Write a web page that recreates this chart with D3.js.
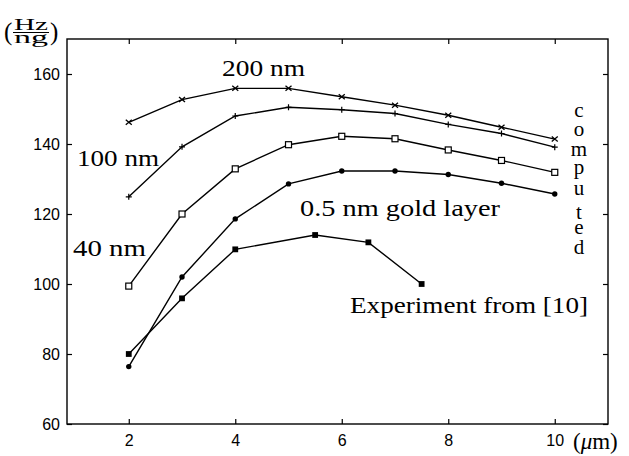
<!DOCTYPE html>
<html>
<head>
<meta charset="utf-8">
<script src="https://cdn.jsdelivr.net/npm/d3@7/dist/d3.min.js"></script>
<style>
body { margin: 0; background: #fff; }
svg { display: block; }
.serif { font-family: "Liberation Serif", "DejaVu Serif", serif; }
.sans { font-family: "Liberation Sans", Arial, sans-serif; }
</style>
</head>
<body>
<script>
// values
var xComputed = [2, 3, 4, 5, 6, 7, 8, 9, 10];
var nm200 = [146.2, 152.7, 155.9, 155.9, 153.5, 151.1, 148.2, 144.8, 141.4];
var nm100 = [124.9, 139.2, 148.0, 150.5, 149.8, 148.7, 145.6, 143.0, 139.1];
var nm40 = [99.4, 120.0, 132.9, 139.8, 142.2, 141.5, 138.3, 135.3, 131.9];
var gold05 = [76.4, 102.0, 118.6, 128.6, 132.3, 132.3, 131.3, 128.8, 125.7];
var xExperiment = [2, 3, 4, 5.5, 6.5, 7.5];
var experiment = [80.0, 95.9, 109.9, 114.0, 111.9, 100.0];
var xTicks = [2, 4, 6, 8, 10];
var yTicks = [60, 80, 100, 120, 140, 160];

var margin = {top: 39, left: 67, right: 21, bottom: 32},
    width = 629 - margin.left - margin.right,
    height = 456 - margin.top - margin.bottom;

var x = d3.scaleLinear().domain([0.84, 11]).range([0, width]);
var y = d3.scaleLinear().domain([60, 170]).range([height, 0]);

var svg = d3.select("body").append("svg")
    .attr("width", 629)
    .attr("height", 456);

var g = svg.append("g")
    .attr("transform", "translate(" + margin.left + "," + margin.top + ")");

// axes, ticks point inward
g.append("g")
    .attr("transform", "translate(0," + height + ")")
    .call(d3.axisBottom(x).tickValues(xTicks).tickSize(-5).tickPadding(11));
g.append("g")
    .call(d3.axisLeft(y).tickValues(yTicks).tickSize(-5).tickPadding(7));
g.append("g")
    .call(d3.axisTop(x).tickValues(xTicks).tickSize(-5).tickFormat(""));
g.append("g")
    .attr("transform", "translate(" + width + ",0)")
    .call(d3.axisRight(y).tickValues(yTicks).tickSize(-5).tickFormat(""));

g.selectAll(".domain").remove();
g.selectAll(".tick line").attr("stroke", "#000").attr("stroke-width", 1.2);
g.selectAll(".tick text")
    .attr("fill", "#000")
    .attr("class", "sans")
    .attr("font-family", null)
    .attr("font-size", 16);

g.append("rect")
    .attr("width", width)
    .attr("height", height)
    .attr("fill", "none")
    .attr("stroke", "#000")
    .attr("stroke-width", 1.4);

// curves
var series = [
    {xs: xComputed, ys: nm200, mark: "x"},
    {xs: xComputed, ys: nm100, mark: "plus"},
    {xs: xComputed, ys: nm40, mark: "osq"},
    {xs: xComputed, ys: gold05, mark: "dot"},
    {xs: xExperiment, ys: experiment, mark: "sq"}
];

var line = d3.line()
    .x(function(d) { return x(d[0]); })
    .y(function(d) { return y(d[1]); });

series.forEach(function(s) {
    var pts = s.xs.map(function(v, i) { return [v, s.ys[i]]; });

    g.append("path")
        .datum(pts)
        .attr("d", line)
        .attr("fill", "none")
        .attr("stroke", "#000")
        .attr("stroke-width", 1.4);

    var m = g.selectAll(null)
        .data(pts)
        .enter().append("g")
        .attr("transform", function(d) { return "translate(" + x(d[0]) + "," + y(d[1]) + ")"; });

    if (s.mark == "x") {
        m.append("path").attr("d", "M-3,-2.5L3,2.5M-3,2.5L3,-2.5")
            .attr("stroke", "#000").attr("stroke-width", 1.3);
    } else if (s.mark == "plus") {
        m.append("path").attr("d", "M-3,0H3M0,-3V3")
            .attr("stroke", "#000").attr("stroke-width", 1.2);
    } else if (s.mark == "osq") {
        m.append("rect").attr("x", -3).attr("y", -3).attr("width", 6).attr("height", 6)
            .attr("fill", "#fff").attr("stroke", "#000").attr("stroke-width", 1.2);
    } else if (s.mark == "dot") {
        m.append("circle").attr("r", 2.7).attr("fill", "#000");
    } else {
        m.append("rect").attr("x", -2.9).attr("y", -2.9).attr("width", 5.8).attr("height", 5.8)
            .attr("fill", "#000");
    }
});

// labels (svg coordinates)
function label(txt, px, py, len, size) {
    return svg.append("text")
        .attr("class", "serif")
        .attr("x", px)
        .attr("y", py)
        .attr("textLength", len)
        .attr("lengthAdjust", "spacingAndGlyphs")
        .attr("font-size", size)
        .text(txt);
}

label("200 nm", 222, 76, 83, 23);
label("100 nm", 77, 166, 82, 23);
label("40 nm", 73, 256, 73, 23);
label("0.5 nm gold layer", 300, 216, 200, 23);
label("Experiment from [10]", 350, 313, 238, 24);

// vertical "computed", one text with stacked letters
var letters = ["c", "o", "m", "p", "u", "t", "e", "d"];
var letterBase = [117, 136, 156, 174, 195, 219, 234, 254];
var comp = svg.append("text")
    .attr("class", "serif")
    .attr("text-anchor", "middle")
    .attr("font-size", 21);
letters.forEach(function(c, i) {
    comp.append("tspan").attr("x", 579).attr("y", letterBase[i]).text(c);
});

// y unit: (Hz / ng) as a fraction
var frac = svg.append("text").attr("class", "serif").attr("font-size", 17);
frac.append("tspan").attr("x", 4).attr("y", 40).attr("font-size", 25).text("(");
frac.append("tspan").attr("x", 14).attr("y", 30)
    .attr("textLength", 34).attr("lengthAdjust", "spacingAndGlyphs").text("Hz");
frac.append("tspan").attr("x", 14).attr("y", 43)
    .attr("textLength", 34).attr("lengthAdjust", "spacingAndGlyphs").text("ng");
frac.append("tspan").attr("x", 50).attr("y", 40).attr("font-size", 25).text(")");
svg.append("line").attr("x1", 13).attr("x2", 49).attr("y1", 32.5).attr("y2", 32.5)
    .attr("stroke", "#000").attr("stroke-width", 1.1);

// x unit: (μm)
var unit = svg.append("text").attr("class", "serif").attr("x", 573).attr("y", 449)
    .attr("font-size", 23);
unit.append("tspan").text("(");
unit.append("tspan").attr("font-style", "italic").text("\u03bc");
unit.append("tspan").text("m)");
</script>
</body>
</html>
